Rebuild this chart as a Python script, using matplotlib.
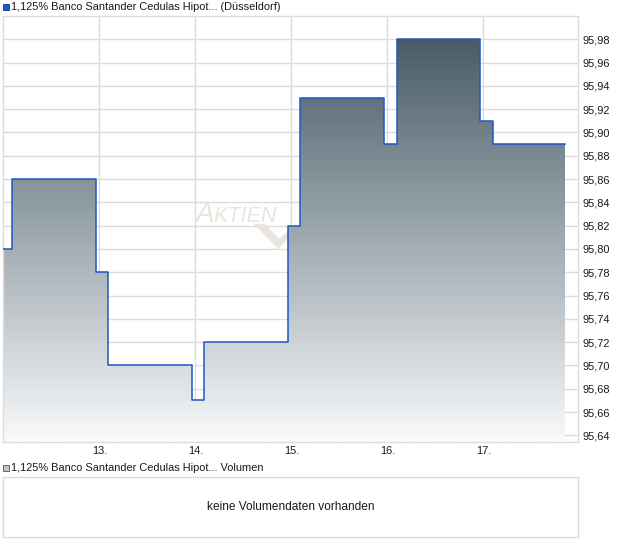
import numpy as np
import matplotlib
matplotlib.use("Agg")
import matplotlib.pyplot as plt
from matplotlib.patches import Rectangle, Polygon

plt.rcParams['font.family'] = ['Liberation Sans', 'DejaVu Sans']

# ---- data ----
times = [12.0, 12.09, 12.97, 13.09, 13.97, 14.09, 14.97, 15.09, 15.97, 16.10, 16.97, 17.10, 17.85]
prices = [95.80, 95.86, 95.78, 95.70, 95.67, 95.72, 95.82, 95.93, 95.89, 95.98, 95.91, 95.89, 95.89]
day_ticks = [13, 14, 15, 16, 17]
day_labels = ["13.", "14.", "15.", "16.", "17."]
price_ticks = [95.64, 95.66, 95.68, 95.70, 95.72, 95.74, 95.76, 95.78, 95.80,
               95.82, 95.84, 95.86, 95.88, 95.90, 95.92, 95.94, 95.96, 95.98]
title = "1,125% Banco Santander Cedulas Hipot... (Düsseldorf)"
vol_title = "1,125% Banco Santander Cedulas Hipot... Volumen"
vol_text = "keine Volumendaten vorhanden"

W, H = 620, 546
fig = plt.figure(figsize=(W / 100, H / 100), dpi=100)
fig.patch.set_facecolor('white')

def fx(px):
    return px / W

def fy(py):
    return (H - py) / H

grid_c = '#dcdcdc'
txt_c = '#1a1a1a'
fs_title = 7.9
fs_tick = 7.9

# ---- main price axes ----
ax = fig.add_axes([fx(3), fy(441.7), fx(578) - fx(3), fy(16) - fy(441.7)])
ymin, ymax = 95.6345, 96.0
xmin, xmax = 11.997, 17.986
ax.set_xlim(xmin, xmax)
ax.set_ylim(ymin, ymax)
ax.set_facecolor('white')
for s in ax.spines.values():
    s.set_color(grid_c)
    s.set_linewidth(1)

ax.set_yticks(price_ticks)
ax.set_yticklabels([f"{v:.2f}".replace('.', ',') for v in price_ticks])
ax.yaxis.tick_right()
ax.set_xticks(day_ticks)
ax.set_xticklabels(day_labels)
ax.tick_params(axis='both', length=0, labelsize=fs_tick, colors=txt_c)
ax.tick_params(axis='y', pad=3)
ax.tick_params(axis='x', pad=3)
ax.grid(True, color=grid_c, linewidth=1)
ax.set_axisbelow(True)

# watermark
wm_c = '#e9e4de'
ax.text(0.334, 0.515, "A", transform=ax.transAxes, fontsize=20, style='italic',
        color=wm_c, va='baseline', ha='left', zorder=1)
ax.text(0.366, 0.515, "KTIEN", transform=ax.transAxes, fontsize=15.5, style='italic',
        color=wm_c, va='baseline', ha='left', zorder=1)
chk = Polygon([(0.436, 0.512), (0.455, 0.512), (0.480, 0.477), (0.508, 0.510),
               (0.508, 0.496), (0.479, 0.452)], closed=True, transform=ax.transAxes,
              facecolor=wm_c, edgecolor='none', zorder=1)
ax.add_patch(chk)

# step polygon for gradient fill
xs, ys = [], []
for i in range(len(times)):
    if i > 0:
        xs.append(times[i]); ys.append(prices[i - 1])
    xs.append(times[i]); ys.append(prices[i])
verts = [(xs[0], ymin)] + list(zip(xs, ys)) + [(xs[-1], ymin)]
poly = Polygon(verts, closed=True, facecolor='none', edgecolor='none')
ax.add_patch(poly)

top_c = np.array([72, 92, 104]) / 255
bot_c = np.array([249, 250, 251]) / 255
n = 256
t = np.linspace(0, 1, n)[:, None]
grad = (top_c[None, :] * (1 - t) + bot_c[None, :] * t)[:, None, :]
im = ax.imshow(grad, extent=[xmin, xmax, ymin, max(prices)], origin='upper',
               aspect='auto', zorder=2, interpolation='bilinear')
im.set_clip_path(poly)

ax.step(times, prices, where='post', color='#1f57c3', linewidth=1.1, zorder=3)

# ---- header legend ----
fig.patches.append(Rectangle((fx(3), fy(9.5)), fx(6), 6 / H, transform=fig.transFigure,
                             facecolor='#2157c0', edgecolor='#123a80', linewidth=0.6))
fig.text(fx(11), fy(6.8), title, fontsize=fs_title, color=txt_c, va='center', ha='left')

# ---- volume legend ----
fig.patches.append(Rectangle((fx(3), fy(471)), fx(6), 6 / H, transform=fig.transFigure,
                             facecolor='#c4c4c4', edgecolor='#555555', linewidth=0.6))
fig.text(fx(11), fy(468), vol_title, fontsize=fs_title, color=txt_c, va='center', ha='left')

# ---- volume box ----
vax = fig.add_axes([fx(3), fy(537.3), fx(578) - fx(3), fy(477.3) - fy(537.3)])
vax.set_xticks([]); vax.set_yticks([])
for s in vax.spines.values():
    s.set_color(grid_c)
    s.set_linewidth(1)
vax.text(0.5, 0.5, vol_text, transform=vax.transAxes, fontsize=8.6, color=txt_c,
         ha='center', va='center')

fig.savefig("out.png", dpi=100)
